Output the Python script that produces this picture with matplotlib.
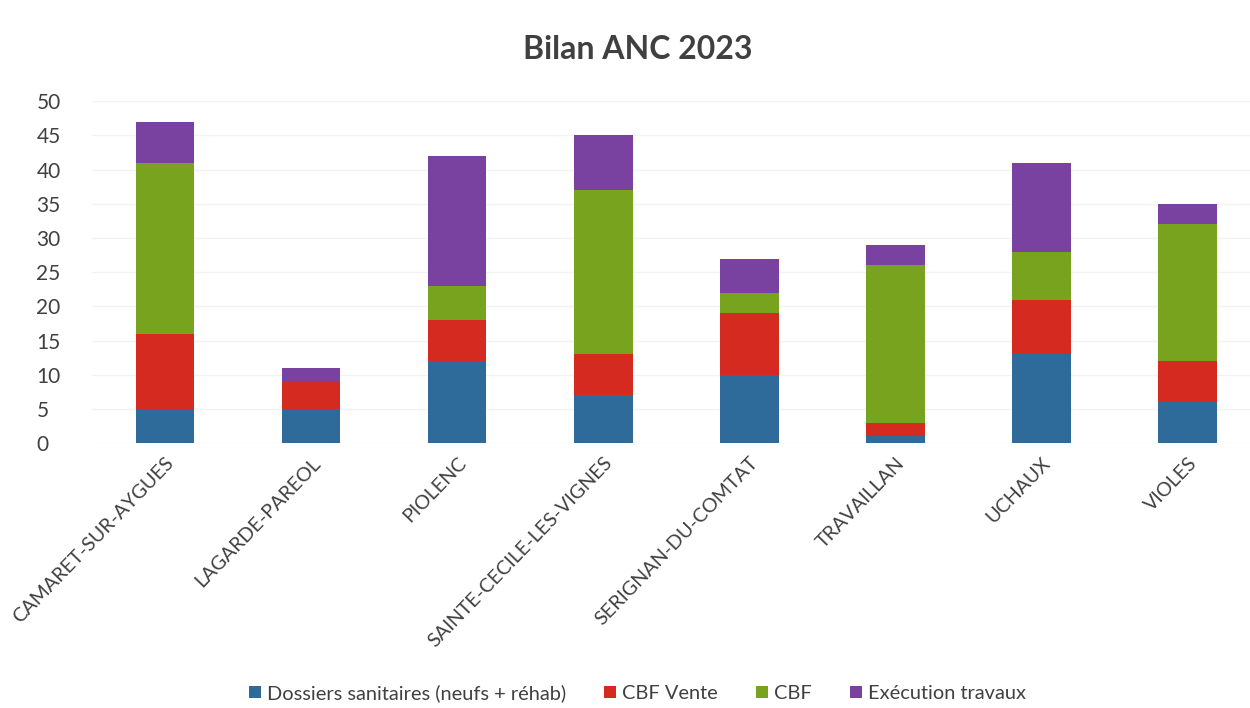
import matplotlib
matplotlib.use("Agg")
import matplotlib.pyplot as plt
import numpy as np

communes = ["CAMARET-SUR-AYGUES", "LAGARDE-PAREOL", "PIOLENC", "SAINTE-CECILE-LES-VIGNES",
            "SERIGNAN-DU-COMTAT", "TRAVAILLAN", "UCHAUX", "VIOLES"]
series_names = ["Dossiers sanitaires (neufs + réhab)", "CBF Vente", "CBF", "Exécution travaux"]
dossiers = [5, 5, 12, 7, 10, 1, 13, 6]
cbf_vente = [11, 4, 6, 6, 9, 2, 8, 6]
cbf = [25, 0, 5, 24, 3, 23, 7, 20]
execution = [6, 2, 19, 8, 5, 3, 13, 3]
colors = ["#2e6b9b", "#d52a1f", "#77a31f", "#7a42a0"]

plt.rcParams['font.family'] = ['Lato', 'DejaVu Sans']
fig = plt.figure(figsize=(12.5, 7.08), dpi=100)
ax = fig.add_axes([0.0736, 0.374, 0.935, 0.483])

x = np.arange(len(communes))
bottom = np.zeros(len(communes))
for name, vals, c in zip(series_names, [dossiers, cbf_vente, cbf, execution], colors):
    ax.bar(x, vals, width=0.4, bottom=bottom, color=c, label=name, zorder=3)
    bottom += np.array(vals)

ax.set_ylim(0, 50)
ax.set_xlim(-0.5, 7.5)
ax.set_yticks(range(0, 51, 5))
ax.yaxis.grid(True, color="#f3f3f3", linewidth=1, zorder=0)
for s in ax.spines.values():
    s.set_visible(False)
ax.tick_params(axis="both", length=0, colors="#404040")
ax.tick_params(axis="y", pad=40, labelsize=15)
for lbl in ax.get_yticklabels():
    lbl.set_horizontalalignment("left")
ax.set_xticks(x)
ax.set_xticklabels(communes, rotation=46, ha="right", rotation_mode="anchor", fontsize=14.2)
ax.tick_params(axis="x", pad=8)

fig.text(0.51, 0.93, "Bilan ANC 2023", ha="center", va="center", fontsize=23,
         fontweight="bold", color="#404040")

fig.legend(loc="center", bbox_to_anchor=(0.51, 0.021), ncol=4, frameon=False,
           fontsize=14.4, handlelength=0.6, handleheight=0.6, handletextpad=0.3,
           columnspacing=1.9, labelcolor="#404040")

fig.savefig("out.png", dpi=100, facecolor="white")
